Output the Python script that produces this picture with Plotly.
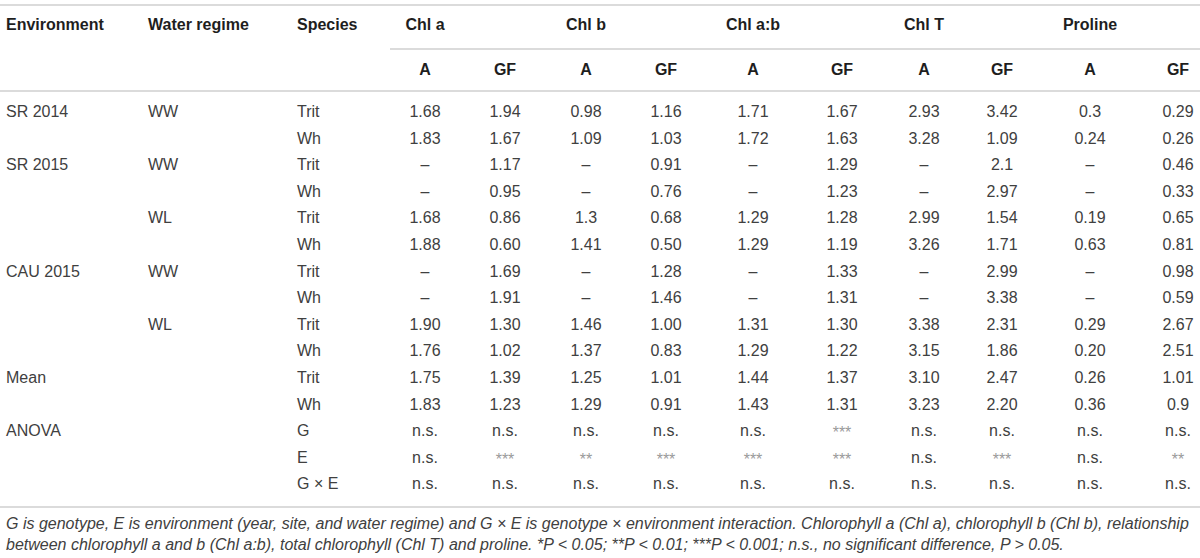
import plotly.graph_objects as go

# ---------------- data ----------------
environment = ["SR 2014", "", "SR 2015", "", "", "", "CAU 2015", "", "", "", "Mean", "", "ANOVA", "", ""]
water_regime = ["WW", "", "WW", "", "WL", "", "WW", "", "WL", "", "", "", "", "", ""]
species = ["Trit", "Wh", "Trit", "Wh", "Trit", "Wh", "Trit", "Wh", "Trit", "Wh", "Trit", "Wh", "G", "E", "G × E"]

group_headers = ["Chl a", "Chl b", "Chl a:b", "Chl T", "Proline"]
sub_headers = ["A", "GF", "A", "GF", "A", "GF", "A", "GF", "A", "GF"]
left_headers = ["Environment", "Water regime", "Species"]

chla_A = ["1.68", "1.83", "–", "–", "1.68", "1.88", "–", "–", "1.90", "1.76", "1.75", "1.83", "n.s.", "n.s.", "n.s."]
chla_GF = ["1.94", "1.67", "1.17", "0.95", "0.86", "0.60", "1.69", "1.91", "1.30", "1.02", "1.39", "1.23", "n.s.", "***", "n.s."]
chlb_A = ["0.98", "1.09", "–", "–", "1.3", "1.41", "–", "–", "1.46", "1.37", "1.25", "1.29", "n.s.", "**", "n.s."]
chlb_GF = ["1.16", "1.03", "0.91", "0.76", "0.68", "0.50", "1.28", "1.46", "1.00", "0.83", "1.01", "0.91", "n.s.", "***", "n.s."]
chlab_A = ["1.71", "1.72", "–", "–", "1.29", "1.29", "–", "–", "1.31", "1.29", "1.44", "1.43", "n.s.", "***", "n.s."]
chlab_GF = ["1.67", "1.63", "1.29", "1.23", "1.28", "1.19", "1.33", "1.31", "1.30", "1.22", "1.37", "1.31", "***", "***", "n.s."]
chlT_A = ["2.93", "3.28", "–", "–", "2.99", "3.26", "–", "–", "3.38", "3.15", "3.10", "3.23", "n.s.", "n.s.", "n.s."]
chlT_GF = ["3.42", "1.09", "2.1", "2.97", "1.54", "1.71", "2.99", "3.38", "2.31", "1.86", "2.47", "2.20", "n.s.", "***", "n.s."]
proline_A = ["0.3", "0.24", "–", "–", "0.19", "0.63", "–", "–", "0.29", "0.20", "0.26", "0.36", "n.s.", "n.s.", "n.s."]
proline_GF = ["0.29", "0.26", "0.46", "0.33", "0.65", "0.81", "0.98", "0.59", "2.67", "2.51", "1.01", "0.9", "n.s.", "**", "n.s."]

caption_lines = [
    "G is genotype, E is environment (year, site, and water regime) and G × E is genotype × environment interaction. "
    "Chlorophyll a (Chl a), chlorophyll b (Chl b), relationship",
    "between chlorophyll a and b (Chl a:b), total chlorophyll (Chl T) and proline. *P < 0.05; **P < 0.01; "
    "***P < 0.001; n.s., no significant difference, P > 0.05.",
]

# ---------------- layout helpers ----------------
value_columns = [chla_A, chla_GF, chlb_A, chlb_GF, chlab_A, chlab_GF, chlT_A, chlT_GF, proline_A, proline_GF]
col_x = [425, 505, 586, 666, 753, 842, 924, 1002, 1090, 1178]
left_x = [6, 148, 297]
row_y0, row_h = 113, 26.6
row_y = [row_y0 + i * row_h for i in range(len(species))]
hdr1_y, hdr2_y = 26, 71

FONT = "Liberation Sans, Arial, Helvetica, sans-serif"
TXT = "#404040"
HDR = "#1e1e1e"

fig = go.Figure()

# left text columns
lx, ly, lt = [], [], []
for x, col in zip(left_x, [environment, water_regime, species]):
    for y, t in zip(row_y, col):
        if t:
            lx.append(x); ly.append(y); lt.append(t)
fig.add_trace(go.Scatter(x=lx, y=ly, text=lt, mode="text", textposition="middle right",
                         textfont=dict(family=FONT, size=16, color=TXT), hoverinfo="skip"))

# numeric columns
nx, ny, nt, sx, sy, st = [], [], [], [], [], []
for x, col in zip(col_x, value_columns):
    for y, t in zip(row_y, col):
        if t.startswith("*"):
            sx.append(x); sy.append(y + 2); st.append(t)
        else:
            nx.append(x); ny.append(y); nt.append(t)
fig.add_trace(go.Scatter(x=nx, y=ny, text=nt, mode="text", textposition="middle center",
                         textfont=dict(family=FONT, size=16, color=TXT), hoverinfo="skip"))
fig.add_trace(go.Scatter(x=sx, y=sy, text=st, mode="text", textposition="middle center",
                         textfont=dict(family=FONT, size=16, color="#9a9a9a"), hoverinfo="skip"))

# headers
hx = left_x + [col_x[2 * i] for i in range(len(group_headers))]
hy = [hdr1_y] * len(hx)
ht = left_headers + group_headers
fig.add_trace(go.Scatter(x=hx[:3], y=hy[:3], text=ht[:3], mode="text", textposition="middle right",
                         textfont=dict(family=FONT, size=16, color=HDR, weight="bold"), hoverinfo="skip"))
fig.add_trace(go.Scatter(x=hx[3:], y=hy[3:], text=ht[3:], mode="text", textposition="middle center",
                         textfont=dict(family=FONT, size=16, color=HDR, weight="bold"), hoverinfo="skip"))
fig.add_trace(go.Scatter(x=col_x, y=[hdr2_y] * len(col_x), text=sub_headers, mode="text",
                         textposition="middle center",
                         textfont=dict(family=FONT, size=16, color=HDR, weight="bold"), hoverinfo="skip"))

# caption
fig.add_trace(go.Scatter(x=[6, 6], y=[525, 546], text=caption_lines, mode="text", textposition="middle right",
                         textfont=dict(family=FONT, size=16, color=TXT, style="italic"), hoverinfo="skip"))

# rules
LINE = dict(color="#cfcfcf", width=1.5)
for x0, y in [(0, 5), (390, 49), (0, 91), (0, 507)]:
    fig.add_shape(type="line", x0=x0, x1=1200, y0=y, y1=y, xref="x", yref="y", line=LINE)

fig.update_layout(
    width=1200, height=558, margin=dict(l=0, r=0, t=0, b=0),
    paper_bgcolor="white", plot_bgcolor="white", showlegend=False,
    xaxis=dict(range=[0, 1200], visible=False, fixedrange=True),
    yaxis=dict(range=[558, 0], visible=False, fixedrange=True),
)

fig.write_html("out.html", config={"displayModeBar": False, "staticPlot": True},
               post_script="document.body.style.margin='0';")
